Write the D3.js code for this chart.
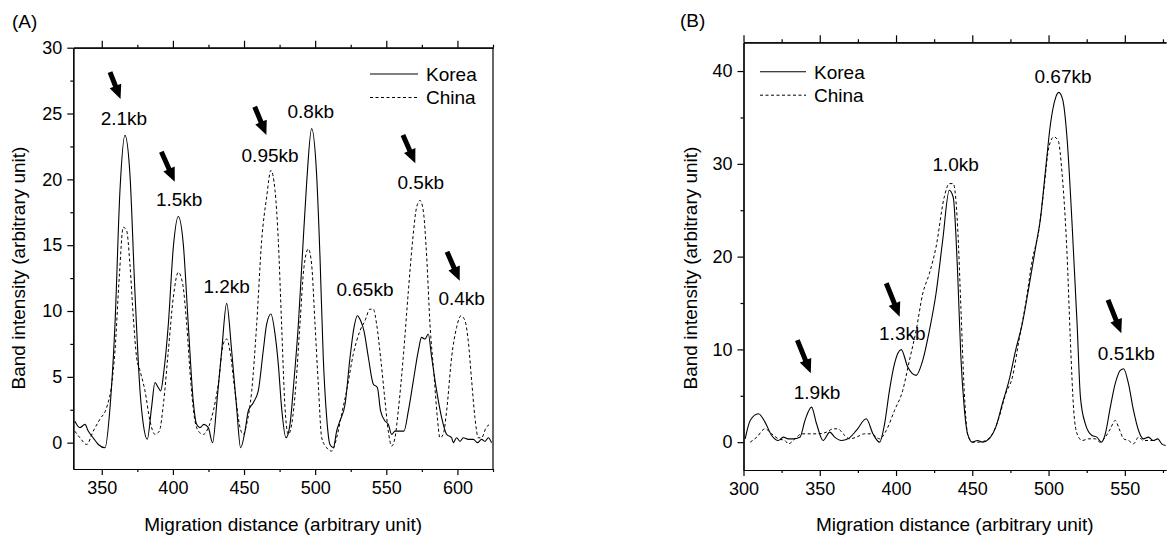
<!DOCTYPE html>
<html>
<head>
<meta charset="utf-8">
<script src="https://cdn.jsdelivr.net/npm/d3@7"></script>
<style>
  html, body { margin: 0; padding: 0; background: #fff; }
  svg { display: block; font-family: "Liberation Sans", Arial, sans-serif; }
  .domain, .tick line { stroke: #000; stroke-width: 1.2; }
  .tick text { font-size: 18px; fill: #000; }
</style>
</head>
<body>
<svg id="chart" width="1167" height="538"></svg>
<script>
// Panel A - band intensity profiles [migration distance, intensity]
const koreaA = [
  [331, 1.65], [334.7, 1.14], [338.2, 1.39], [340.5, 0.88], [344, 0.37], [347.6, -0.14], [352.3, -0.39],
  [355.8, 2.66], [359.3, 9.0], [362.8, 19.15], [366.3, 23.34], [369.8, 20.4], [373.3, 11.5], [376.9, 3.93],
  [379.2, 1.4], [382, 0.26], [385, 2.66], [387.4, 4.57], [389.7, 4.19], [391.4, 3.93], [393.7, 5.46],
  [396.8, 9.0], [400.3, 14.84], [403.8, 17.18], [407.3, 15.1], [410.8, 9.0], [414.3, 3.17], [416.7, 1.39],
  [419, 1.14], [421.8, 1.39], [424.9, 1.14], [427.9, 0.0], [431.2, 3.42], [434.3, 6.98], [437.8, 10.58],
  [441.3, 6.98], [444.8, 2.66], [447.6, -0.39], [450.7, 0.88], [453, 2.41], [456.5, 3.04], [460, 3.93],
  [463.5, 6.98], [465.9, 9.0], [468.9, 9.77], [471.8, 8.25], [474.1, 5.96], [476.4, 2.66], [479.5, 0.37],
  [482.3, 1.39], [485.1, 4.7], [488.2, 9.0], [491.2, 14.6], [494, 19.7], [497.5, 23.85], [501, 20.4],
  [503.4, 14.1], [505.7, 6.47], [508.1, 1.9], [510.4, -0.14], [512.8, -0.39], [515.1, 0.88], [517.4, 1.65],
  [521, 2.9], [524.5, 6.47], [527.3, 8.75], [529.6, 9.64], [532, 9.26], [534.3, 8.5], [537.4, 6.47],
  [540.9, 4.44], [543.7, 4.19], [546, 2.41], [549.1, 1.65], [551.4, 1.39], [553.8, 0.63], [556.1, 0.88],
  [559.1, 0.88], [562.4, 0.88], [565.5, 2.41], [569, 4.7], [572.5, 6.98], [574.8, 8.0], [577.2, 7.87],
  [579.5, 8.25], [581.9, 6.47], [585.4, 3.93], [588.9, 1.9], [592.4, 0.63], [595.9, 0.37], [597.1, 0.0],
  [599.4, 0.37], [601.8, 0.1], [604.1, 0.37], [607.6, 0.25], [611.2, 0.25], [614, 0.0], [617, 0.25],
  [619.4, 0.1], [621.7, 0.37], [624, 0.0]
];
const chinaA = [
  [331, 0.88], [334.7, 0.37], [339.4, -0.14], [344, 0.88], [348.7, 1.78], [353.4, 2.66], [357, 4.44],
  [359.3, 6.98], [362.3, 12.56], [365.1, 16.36], [367.5, 16.1], [369.8, 13.56], [372.2, 9.5], [374.5, 6.47],
  [376.9, 5.46], [380.4, 3.93], [383.9, 1.65], [387.4, 0.63], [390.5, 0.88], [393.3, 2.9], [396.8, 6.98],
  [400.3, 11.04], [403.8, 12.94], [406.9, 12.05], [409.7, 9.0], [412.5, 4.7], [414.8, 2.16], [417.9, 0.88],
  [421.4, 0.63], [424.9, 1.14], [428.4, 2.41], [431.9, 4.44], [435.4, 7.5], [437.8, 7.87], [440.1, 6.98],
  [443.6, 3.93], [447.2, 1.14], [449.5, 0.63], [451.8, 1.39], [455.4, 3.93], [458.9, 9.0], [462.4, 15.35],
  [465.9, 18.65], [468.9, 20.68], [471.8, 19.15], [474.1, 15.35], [476.4, 9.0], [478.8, 2.66], [481.1, 0.63],
  [483.5, 1.39], [486.5, 4.44], [489.3, 9.0], [492.1, 13.3], [495.2, 14.71], [497.5, 13.56], [499.9, 9.0],
  [502.2, 4.44], [504.6, 0.37], [508.1, -0.39], [511.6, -0.64], [515.1, 0.37], [518.6, 2.16], [522.1, 3.93],
  [526.8, 6.72], [531.5, 8.5], [535, 9.26], [538.5, 10.14], [540.9, 10.14], [543.2, 9.0], [546, 6.47],
  [549.1, 3.17], [551.4, 0.88], [553.8, -0.26], [556.1, 0.37], [558.4, 2.41], [561.9, 6.47], [565.5, 11.5],
  [568.5, 15.35], [571.3, 17.88], [573.7, 18.4], [576, 17.6], [578.4, 14.1], [580.7, 9.0], [583.5, 5.2],
  [585.9, 1.9], [587.7, 0.37], [590, 0.63], [592.4, 2.41], [595.9, 6.47], [599.4, 8.75], [602.5, 9.64],
  [605.3, 9.26], [607.6, 7.74], [610, 4.7], [612.3, 1.9], [614.7, 0.37], [617, 0.37], [620.1, 1.14],
  [622.9, 1.39]
];

// Panel B
const koreaB = [
  [301.1, 0.36], [304.4, 2.34], [309.8, 3.06], [314.1, 2.16], [318.5, 0.72], [322.8, 0.18], [326.1, 0.54],
  [329.4, 0.36], [332.6, 0.36], [337, 0.54], [340.3, 2.34], [344.6, 3.78], [347.9, 1.98], [352.2, 0.18],
  [356.6, 1.08], [359.8, 0.54], [364.2, 0.18], [368.5, 0.36], [374, 1.26], [380.5, 2.52], [384.9, 0.9],
  [389.2, 0.0], [392.5, 1.98], [395.7, 5.58], [399, 8.46], [403.4, 9.97], [407.7, 8.1], [413.2, 7.2],
  [417.5, 8.82], [421.9, 12.06], [426.2, 16.0], [430.6, 21.76], [434.9, 27.15], [437.5, 26.4], [440.4, 18.2],
  [442.5, 9.2], [444.7, 3.78], [446.9, 0.9], [450.1, 0.0], [453.4, 0.18], [456.7, 0.0], [461, 0.36],
  [465.4, 1.62], [469.7, 4.14], [474.1, 6.66], [478.4, 9.9], [482.8, 12.78], [487.1, 16.72], [491.5, 21.0],
  [494.8, 24.26], [498, 29.3], [501.3, 34.35], [504.5, 37.06], [506.7, 37.7], [509.3, 36.9], [512.2, 32.6],
  [515.4, 23.6], [518.7, 12.78], [520.9, 4.86], [524.1, 1.98], [528.5, 0.72], [531.7, 0.54], [534.6, 0.0],
  [537.2, 0.9], [540.5, 3.78], [543.7, 6.3], [547, 7.74], [549.2, 7.92], [552.4, 6.3], [555.7, 3.42],
  [559, 1.26], [562.2, 0.36], [565.5, 0.54], [568.7, 0.18], [571.6, 0.36], [574.2, -0.18], [576.8, -0.36]
];
const chinaB = [
  [304.4, 0.0], [308.7, 0.54], [314.1, 1.44], [318.5, 0.9], [322.8, 0.36], [327.2, 0.18], [329.4, -0.18],
  [333.7, 0.36], [338.1, 0.9], [343.5, 0.9], [349, 0.9], [354.4, 1.08], [358.8, 1.44], [362, 1.44],
  [365.3, 0.9], [369.6, 0.36], [374, 0.54], [379.4, 0.9], [383.8, 0.9], [389.2, 0.36], [393.6, 1.26],
  [399, 3.42], [404.4, 5.58], [408.8, 8.82], [413.2, 12.06], [417.5, 16.0], [421.9, 18.2], [426.2, 21.0],
  [431.6, 26.4], [434.9, 27.87], [437.5, 27.87], [440.4, 23.2], [442.5, 14.6], [444.7, 5.58], [446.9, 0.9],
  [450.1, 0.0], [454.5, 0.0], [458.8, 0.18], [463.2, 0.9], [467.6, 2.7], [471.9, 5.22], [476.3, 7.0],
  [480.6, 10.98], [485, 14.94], [489.3, 19.6], [493.7, 22.9], [496.9, 27.2], [500.2, 31.8], [503.5, 32.9],
  [506.3, 32.5], [508.9, 28.9], [512.2, 19.96], [514.3, 10.98], [516.5, 3.42], [518.7, 0.9], [522, 0.18],
  [526.3, 0.36], [530.7, 0.36], [533.9, 0.0], [537.2, 0.54], [540.5, 1.44], [543.7, 2.34], [546.3, 1.44],
  [549.2, 0.36], [552.4, 0.18], [555.7, -0.18], [559, 0.54], [562.2, 0.18], [565.5, 0.18], [569.8, 0.18]
];

// band size labels, anchored at [distance, intensity]
const bandLabelsA = [
  ['2.1kb', 365.6, 24.66], ['1.5kb', 404.4, 18.5], ['1.2kb', 437.8, 11.9], ['0.95kb', 468.3, 21.85],
  ['0.8kb', 496.9, 25.2], ['0.65kb', 535, 11.65], ['0.5kb', 574.2, 19.75], ['0.4kb', 603, 10.97]
];
const bandLabelsB = [
  ['1.9kb', 348.2, 5.44], ['1.3kb', 404.1, 11.74], ['1.0kb', 439.1, 29.98], ['0.67kb', 509.5, 39.4],
  ['0.51kb', 551, 9.58]
];
// arrows: [tail x, tail y, head x, head y] in data units
const arrowsA = [
  [355.8, 28.15, 363.2, 26.1], [391.9, 22.1, 401.3, 19.82], [457.5, 25.52, 465.7, 23.37],
  [561.7, 23.37, 570.4, 21.22], [592.7, 14.5, 601.6, 12.3]
];
const arrowsB = [
  [335.3, 11.0, 344.1, 7.43], [393.6, 17.13, 402.4, 13.53], [539, 15.33, 547.7, 11.74]
];
const seriesNames = ['Korea', 'China'];

const svg = d3.select('#chart');

function drawPanel(opt) {
  const { x, y, korea, china, labels, arrows } = opt;
  const g = svg.append('g');
  const [x0, x1] = x.range();
  const [y0, y1] = y.range(); // y0 bottom, y1 top

  // axes
  g.append('g').attr('transform', `translate(0,${y0})`)
    .call(d3.axisBottom(x).tickValues(opt.xMinor).tickSize(3).tickFormat('').tickSizeOuter(0));
  g.append('g').attr('transform', `translate(0,${y0})`)
    .call(d3.axisBottom(x).tickValues(opt.xMajor).tickSize(6).tickPadding(6).tickSizeOuter(0));
  g.append('g').attr('transform', `translate(0,${y1})`)
    .call(d3.axisTop(x).tickValues(opt.xMinor).tickSize(3).tickFormat('').tickSizeOuter(0));
  g.append('g').attr('transform', `translate(0,${y1})`)
    .call(d3.axisTop(x).tickValues(opt.xMajor).tickSize(7).tickFormat('').tickSizeOuter(0));
  g.append('g').attr('transform', `translate(${x0},0)`)
    .call(d3.axisLeft(y).tickValues(opt.yMinor).tickSize(3).tickFormat('').tickSizeOuter(0));
  g.append('g').attr('transform', `translate(${x0},0)`)
    .call(d3.axisLeft(y).tickValues(opt.yMajor).tickSize(6).tickPadding(5).tickSizeOuter(0));
  if (opt.rightBorder) {
    g.append('line').attr('x1', x1).attr('x2', x1).attr('y1', y1).attr('y2', y0)
      .attr('stroke', '#000').attr('stroke-width', 1.2);
  }
  g.selectAll('.tick text').attr('font-size', 18);

  // curves
  const line = d3.line().x(d => x(d[0])).y(d => y(d[1])).curve(d3.curveMonotoneX);
  g.append('path').datum(china).attr('d', line)
    .attr('fill', 'none').attr('stroke', '#000').attr('stroke-width', 1).attr('stroke-dasharray', '3,2.5');
  g.append('path').datum(korea).attr('d', line)
    .attr('fill', 'none').attr('stroke', '#000').attr('stroke-width', 1.1);

  // band labels
  g.selectAll('text.band').data(labels).join('text')
    .attr('class', 'band')
    .attr('x', d => x(d[1])).attr('y', d => y(d[2]))
    .attr('dy', '0.36em').attr('text-anchor', 'middle')
    .attr('font-size', 19).text(d => d[0]);

  // arrows
  g.selectAll('path.arrow').data(arrows).join('path')
    .attr('class', 'arrow')
    .attr('fill', '#000')
    .attr('d', d => {
      const tx = x(d[0]), ty = y(d[1]), hx = x(d[2]), hy = y(d[3]);
      const len = Math.hypot(hx - tx, hy - ty);
      const ux = (hx - tx) / len, uy = (hy - ty) / len;
      const px = -uy, py = ux;
      const headLen = 14, headW = 6.2, shaftW = 2.5;
      const bx = hx - ux * headLen, by = hy - uy * headLen;
      const pts = [
        [tx + px * shaftW, ty + py * shaftW],
        [bx + px * shaftW, by + py * shaftW],
        [bx + px * headW, by + py * headW],
        [hx, hy],
        [bx - px * headW, by - py * headW],
        [bx - px * shaftW, by - py * shaftW],
        [tx - px * shaftW, ty - py * shaftW]
      ];
      return 'M' + pts.map(p => p.join(',')).join('L') + 'Z';
    });

  // legend
  const lg = g.append('g').attr('transform', `translate(${opt.legend[0]},${opt.legend[1]})`);
  seriesNames.forEach((name, i) => {
    const yy = i * 23.5;
    lg.append('line').attr('x1', 0).attr('x2', opt.legendLen).attr('y1', yy).attr('y2', yy)
      .attr('stroke', '#000').attr('stroke-width', i ? 1 : 1.1)
      .attr('stroke-dasharray', i ? '3,2.5' : null);
    lg.append('text').attr('x', opt.legendLen + 8).attr('y', yy).attr('dy', '0.36em')
      .attr('font-size', 19).text(name);
  });

  // axis titles
  g.append('text').attr('x', (x0 + x1) / 2).attr('y', 531).attr('text-anchor', 'middle')
    .attr('font-size', 19).text('Migration distance (arbitrary unit)');
  g.append('text').attr('transform', `translate(${opt.yTitleX},268) rotate(-90)`)
    .attr('text-anchor', 'middle').attr('dy', '0.36em')
    .attr('font-size', 19).text('Band intensity (arbitrary unit)');
  g.append('text').attr('x', opt.tag[0]).attr('y', opt.tag[1]).attr('font-size', 19).text(opt.tagText);
}

drawPanel({
  x: d3.scaleLinear([330, 625], [73.3, 493]),
  y: d3.scaleLinear([-2, 30], [469, 47.7]),
  korea: koreaA, china: chinaA, labels: bandLabelsA, arrows: arrowsA,
  xMajor: [350, 400, 450, 500, 550, 600],
  xMinor: [375, 425, 475, 525, 575, 625],
  yMajor: [0, 5, 10, 15, 20, 25, 30],
  yMinor: [2.5, 7.5, 12.5, 17.5, 22.5, 27.5],
  rightBorder: true,
  legend: [370, 74], legendLen: 48,
  yTitleX: 18, tag: [12, 28], tagText: '(A)'
});

drawPanel({
  x: d3.scaleLinear([300, 577], [743.5, 1166]),
  y: d3.scaleLinear([-3, 43.1], [470, 42.3]),
  korea: koreaB, china: chinaB, labels: bandLabelsB, arrows: arrowsB,
  xMajor: [300, 350, 400, 450, 500, 550],
  xMinor: [325, 375, 425, 475, 525, 575],
  yMajor: [0, 10, 20, 30, 40],
  yMinor: [5, 15, 25, 35],
  rightBorder: false,
  legend: [760, 71.7], legendLen: 46,
  yTitleX: 690, tag: [680, 27], tagText: '(B)'
});
</script>
</body>
</html>
